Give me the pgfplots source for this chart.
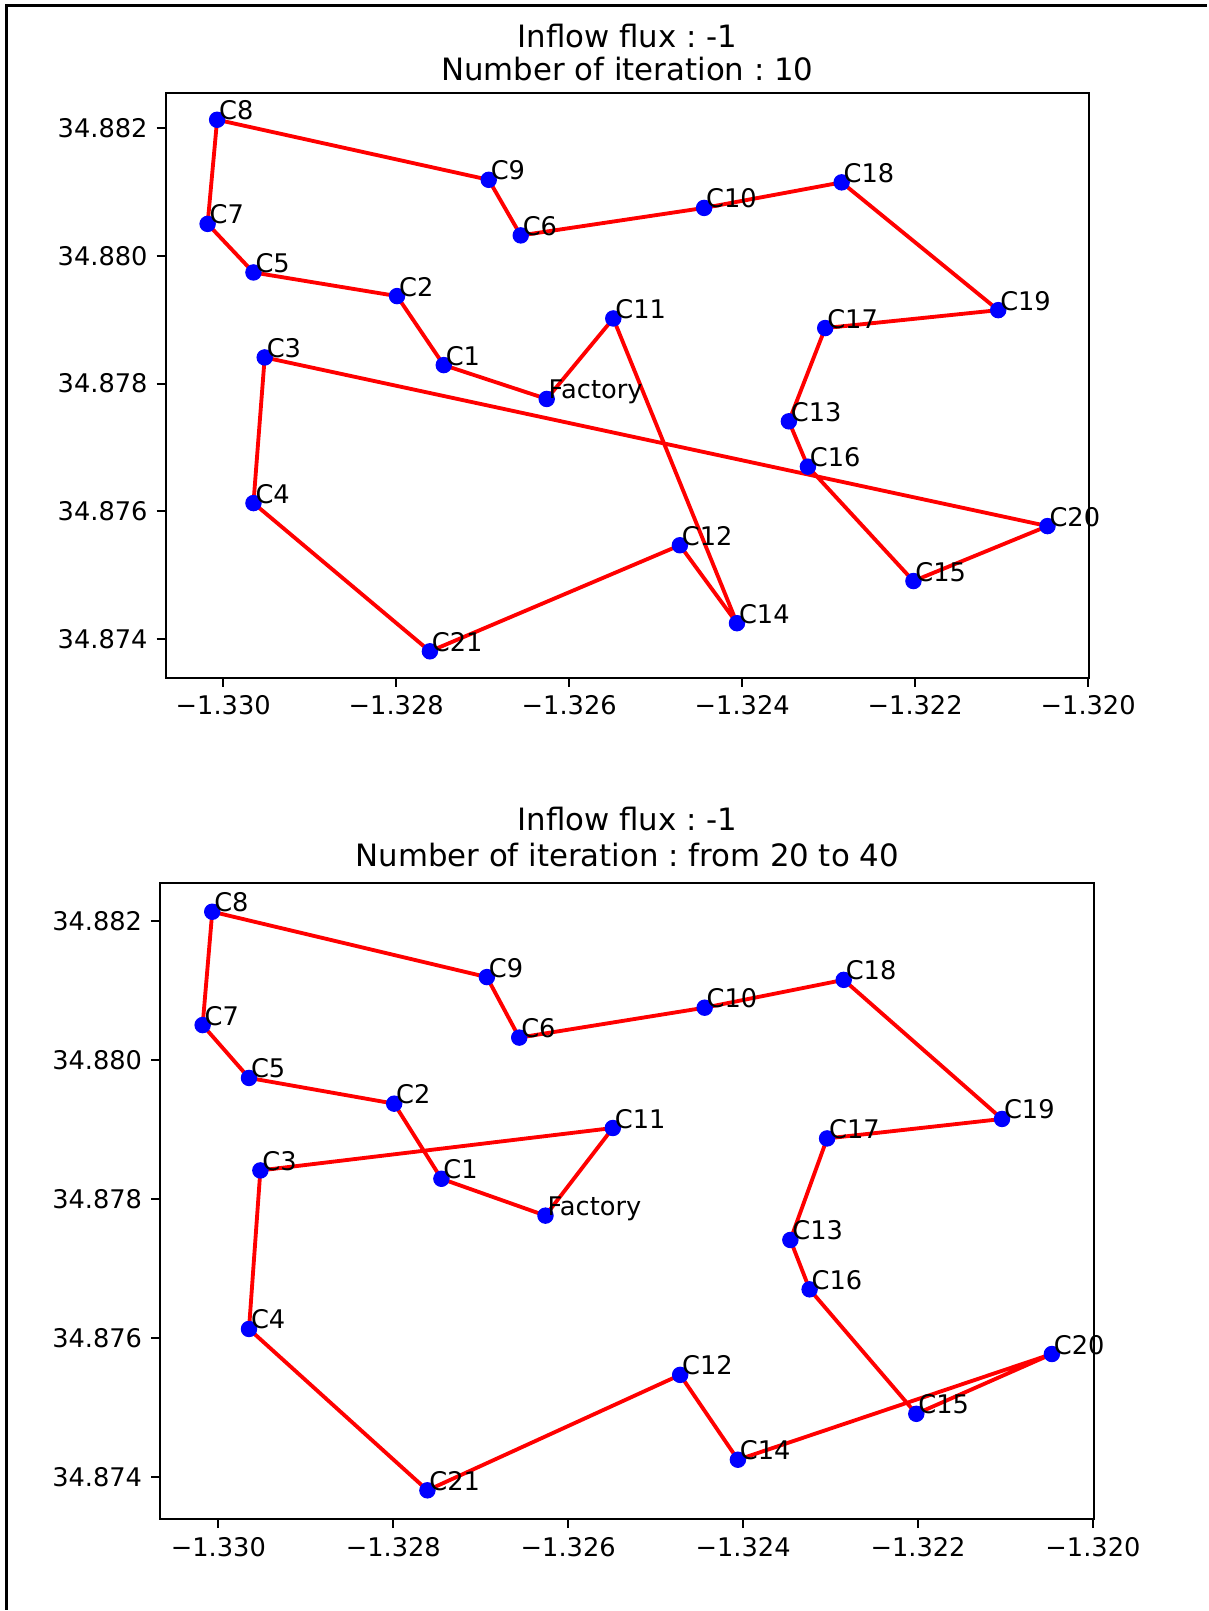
\documentclass[border=0pt]{standalone}
\usepackage{fontspec}
\setmainfont{DejaVu Sans}
\usepackage{pgfplots}
\usepackage{pgfplotstable}
\pgfplotsset{compat=1.18}
\frenchspacing

\pgfplotstableread{
label x y
C1 -1.32745 34.87829
C2 -1.32799 34.87937
C3 -1.32952 34.87841
C4 -1.32965 34.87613
C5 -1.32965 34.87974
C6 -1.32656 34.88032
C7 -1.33018 34.88050
C8 -1.33007 34.88213
C9 -1.32693 34.88119
C10 -1.32444 34.88075
C11 -1.32549 34.87902
C12 -1.32472 34.87547
C13 -1.32346 34.87741
C14 -1.32406 34.87425
C15 -1.32202 34.87491
C16 -1.32324 34.87670
C17 -1.32304 34.87887
C18 -1.32285 34.88115
C19 -1.32104 34.87915
C20 -1.32047 34.87577
C21 -1.32761 34.87381
Factory -1.32626 34.87776
}\cities

% route after 10 iterations
\pgfplotstableread{
x y
-1.32626 34.87776
-1.32549 34.87902
-1.32406 34.87425
-1.32472 34.87547
-1.32761 34.87381
-1.32965 34.87613
-1.32952 34.87841
-1.32047 34.87577
-1.32202 34.87491
-1.32324 34.87670
-1.32346 34.87741
-1.32304 34.87887
-1.32104 34.87915
-1.32285 34.88115
-1.32444 34.88075
-1.32656 34.88032
-1.32693 34.88119
-1.33007 34.88213
-1.33018 34.88050
-1.32965 34.87974
-1.32799 34.87937
-1.32745 34.87829
-1.32626 34.87776
}\routeA

% route from 20 to 40 iterations
\pgfplotstableread{
x y
-1.32626 34.87776
-1.32549 34.87902
-1.32952 34.87841
-1.32965 34.87613
-1.32761 34.87381
-1.32472 34.87547
-1.32406 34.87425
-1.32047 34.87577
-1.32202 34.87491
-1.32324 34.87670
-1.32346 34.87741
-1.32304 34.87887
-1.32104 34.87915
-1.32285 34.88115
-1.32444 34.88075
-1.32656 34.88032
-1.32693 34.88119
-1.33007 34.88213
-1.33018 34.88050
-1.32965 34.87974
-1.32799 34.87937
-1.32745 34.87829
-1.32626 34.87776
}\routeB

\pgfplotsset{
  routeaxis/.style={
    scale only axis, clip=false,
    xmin=-1.330666, xmax=-1.319985, ymin=34.873394, ymax=34.882546,
    xtick={-1.330,-1.328,-1.326,-1.324,-1.322,-1.320},
    xticklabels={−1.330,−1.328,−1.326,−1.324,−1.322,−1.320},
    ytick={34.874,34.876,34.878,34.880,34.882},
    yticklabels={34.874,34.876,34.878,34.880,34.882},
    scaled ticks=false,
    tick align=outside, xtick pos=left, ytick pos=left,
    major tick length=3.5pt,
    every tick/.style={black, line width=0.8pt},
    axis line style={black, line width=0.8pt},
    ticklabel style={font=\fontsize{10}{12}\selectfont, text=black},
  },
  citymarks/.style={only marks, mark=*, mark size=3pt, color=blue, mark options={draw=blue, fill=blue}},
  cityroute/.style={color=red, line width=1.5pt, mark=none, line join=round, line cap=round},
  citylabels/.style={draw=none, mark=none, nodes near coords, point meta=explicit symbolic,
    every node near coord/.style={anchor=base west, inner sep=0pt, xshift=0.6pt, font=\fontsize{10}{12}\selectfont, text=black}},
}

\begin{document}
\begin{tikzpicture}
\path (0,0) rectangle (470.4pt,627.2pt);
% outer frame (left and top edges)
\draw[black, line width=1.1pt] (2.6pt,0) -- (2.6pt,625pt) -- (470.4pt,625pt);

% top axis
\begin{axis}[routeaxis, at={(64.52pt,363.04pt)}, anchor=south west, width=360pt, height=227.84pt]
\addplot[citymarks] table[x=x, y=y] {\cities};
\addplot[cityroute] table[x=x, y=y] {\routeA};
\addplot[citylabels] table[x=x, y=y, meta=label] {\cities};
\end{axis}
\node[anchor=base, font=\fontsize{12}{14}\selectfont] at (244.5pt,608.8pt) {Inflow flux : -1};
\node[anchor=base, font=\fontsize{12}{14}\selectfont] at (244.5pt,596pt) {Number of iteration : 10};

% bottom axis
\begin{axis}[routeaxis, at={(62.4pt,35.2pt)}, anchor=south west, width=364pt, height=248pt]
\addplot[citymarks] table[x=x, y=y] {\cities};
\addplot[cityroute] table[x=x, y=y] {\routeB};
\addplot[citylabels] table[x=x, y=y, meta=label] {\cities};
\end{axis}
\node[anchor=base, font=\fontsize{12}{14}\selectfont] at (244.4pt,303.6pt) {Inflow flux : -1};
\node[anchor=base, font=\fontsize{12}{14}\selectfont] at (244.4pt,289.6pt) {Number of iteration : from 20 to 40};
\end{tikzpicture}
\end{document}
